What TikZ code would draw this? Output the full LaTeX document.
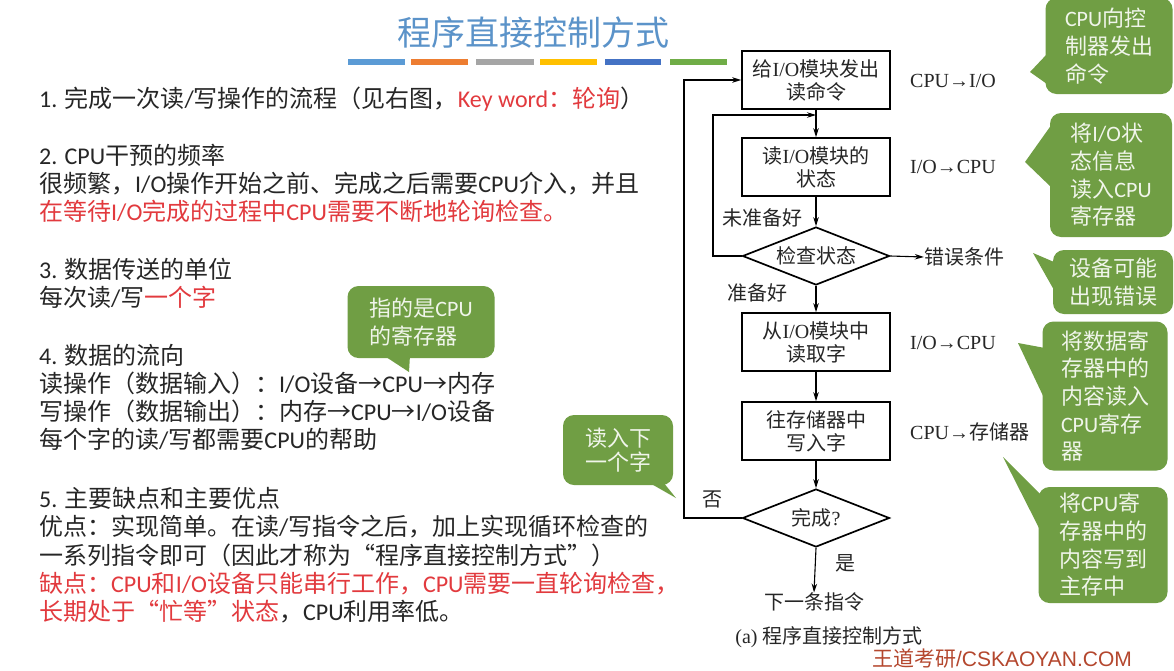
\documentclass[tikz,border=0pt]{standalone}
\usepackage{fontspec}
\setmainfont{Noto Sans CJK SC}
\newfontfamily\latf{Carlito}
\newfontfamily\serf{Liberation Serif}
\newfontfamily\arlf{Liberation Sans}
\newcommand\ltxt[1]{{\latf #1}}
\newcommand\stxt[1]{{\serf #1}}
\usetikzlibrary{shapes.geometric,arrows.meta}
\definecolor{txtc}{RGB}{38,38,38}
\definecolor{hired}{RGB}{226,58,62}
\definecolor{titleblue}{RGB}{91,147,201}
\definecolor{cgreen}{RGB}{112,158,68}
\definecolor{ctext}{RGB}{240,245,234}
\definecolor{wmred}{RGB}{180,71,46}
\definecolor{barA}{RGB}{91,155,213}
\definecolor{barB}{RGB}{237,125,49}
\definecolor{barC}{RGB}{165,165,165}
\definecolor{barD}{RGB}{255,192,0}
\definecolor{barE}{RGB}{68,114,196}
\definecolor{barF}{RGB}{112,173,71}
\begin{document}
\begin{tikzpicture}[x=1pt,y=-1pt,
  lefttext/.style={anchor=west,inner sep=0pt,text=txtc,font=\fontsize{24}{28}\selectfont},
  fbox/.style={draw=black,line width=1.7pt,minimum width=148pt,minimum height=58pt,inner sep=0pt,align=center,text=txtc,font=\fontsize{20}{23}\selectfont},
  fdia/.style={diamond,aspect=2.5,draw=black,line width=1.7pt,minimum width=147pt,minimum height=58pt,inner sep=0pt,text=txtc,font=\fontsize{20}{23}\selectfont},
  flab/.style={inner sep=0pt,text=txtc,font=\fontsize{20}{23}\selectfont},
  rlab/.style={anchor=west,inner sep=0pt,text=txtc,font=\fontsize{20}{23}\selectfont},
  farr/.style={line width=1.1pt,-{Stealth[length=9pt,width=5.5pt]}},
  callbox/.style={fill=cgreen,rounded corners=11pt,inner sep=0pt,text=ctext,align=left,font=\fontsize{22}{27.7}\selectfont},
]
\useasboundingbox (0,0) rectangle (1174,670);
\fill[white] (0,0) rectangle (1174,670);

% title
\node[inner sep=0pt,text=titleblue,font=\fontsize{34}{40}\selectfont] (title) at (533,33) {程序直接控制方式};
\fill[barA] (348,59) rectangle (405,65);
\fill[barB] (411,59) rectangle (468,65);
\fill[barC] (476,59) rectangle (534,65);
\fill[barD] (540,59) rectangle (597,65);
\fill[barE] (605,59) rectangle (661,65);
\fill[barF] (670,59) rectangle (727,65);

% left text
\node[lefttext] (l1) at (39,99) {\ltxt{1. }完成一次读\ltxt{/}写操作的流程（见右图，\textcolor{hired}{\ltxt{Key word}：轮询}）};
\node[lefttext] (l2a) at (39,155) {\ltxt{2. CPU}干预的频率};
\node[lefttext] (l2b) at (39,184) {很频繁，\ltxt{I/O}操作开始之前、完成之后需要\ltxt{CPU}介入，并且};
\node[lefttext] (l2c) at (39,211) {\textcolor{hired}{在等待\ltxt{I/O}完成的过程中\ltxt{CPU}需要不断地轮询检查。}};
\node[lefttext] (l3a) at (39,269) {\ltxt{3. }数据传送的单位};
\node[lefttext] (l3b) at (39,297) {每次读\ltxt{/}写\textcolor{hired}{一个字}};
\node[lefttext] (l4a) at (39,355) {\ltxt{4. }数据的流向};
\node[lefttext] (l4b) at (39,383) {读操作（数据输入）：\ltxt{I/O}设备→\ltxt{CPU}→内存};
\node[lefttext] (l4c) at (39,411) {写操作（数据输出）：内存→\ltxt{CPU}→\ltxt{I/O}设备};
\node[lefttext] (l4d) at (39,439) {每个字的读\ltxt{/}写都需要\ltxt{CPU}的帮助};
\node[lefttext] (l5a) at (39,498) {\ltxt{5. }主要缺点和主要优点};
\node[lefttext] (l5b) at (39,527) {优点：实现简单。在读\ltxt{/}写指令之后，加上实现循环检查的};
\node[lefttext] (l5c) at (39,555) {一系列指令即可（因此才称为“程序直接控制方式”）};
\node[lefttext] (l5d) at (39,584) {\textcolor{hired}{缺点：\ltxt{CPU}和\ltxt{I/O}设备只能串行工作，\ltxt{CPU}需要一直轮询检查，}};
\node[lefttext] (l5e) at (39,612) {\textcolor{hired}{长期处于“忙等”状态}，\ltxt{CPU}利用率低。};

% flowchart
\node[fbox] (b1) at (816,80) {给\stxt{I/O}模块发出\\读命令};
\node[fbox] (b2) at (816,167) {读\stxt{I/O}模块的\\状态};
\node[fdia] (d1) at (816,256) {检查状态};
\node[fbox] (b3) at (816,342) {从\stxt{I/O}模块中\\读取字};
\node[fbox] (b4) at (816,431) {往存储器中\\写入字};
\node[fdia] (d2) at (816,518) {完成\stxt{?}};
\node[flab] (nxt) at (814,602) {下一条指令};
\node[flab] (err) at (964,257) {错误条件};
\coordinate (j1) at (816,115);

\draw[farr] (b1.south) -- (b2.north);
\draw[farr] (b2.south) -- (d1.north);
\draw[farr] (d1.south) -- (b3.north);
\draw[farr] (b3.south) -- (b4.north);
\draw[farr] (b4.south) -- (d2.north);
\draw[farr] (d2.south) -- (nxt.north);
\draw[farr] (d1.east) -- (err.west);
\draw[farr] (d1.west) -| (713,115) -- (j1);
\draw[farr] (d2.west) -| (684,80) -- (b1.west);

\node[flab] (nr) at (762,218) {未准备好};
\node[flab] (rd) at (757,293) {准备好};
\node[flab] (no) at (712,499) {否};
\node[flab] (yes) at (845,563) {是};

\node[rlab] (r1) at (910,81) {\stxt{CPU→I/O}};
\node[rlab] (r2) at (910,167) {\stxt{I/O→CPU}};
\node[rlab] (r3) at (910,343) {\stxt{I/O→CPU}};
\node[rlab] (r4) at (910,432) {\stxt{CPU→}存储器};
\node[flab] (cap) at (829,637) {\stxt{(a) }程序直接控制方式};

% callouts
\fill[cgreen] (1047,54) -- (1030,72) -- (1047,84) -- cycle;
\node[callbox,minimum width=127pt,minimum height=96pt] (c1) at (1109,46) {\ltxt{CPU}向控\\制器发出\\命令};
\fill[cgreen] (1052,124) -- (1025,162) -- (1052,188) -- cycle;
\node[callbox,minimum width=122pt,minimum height=124pt] (c2) at (1111,175) {将\ltxt{I/O}状\\态信息\\读入\ltxt{CPU}\\寄存器};
\fill[cgreen] (1054,262) -- (1033,253) -- (1054,290) -- cycle;
\node[callbox,minimum width=120pt,minimum height=64pt] (c3) at (1113,282) {设备可能\\出现错误};
\fill[cgreen] (1045,348) -- (1018,343) -- (1045,400) -- cycle;
\node[callbox,minimum width=125pt,minimum height=149pt] (c4) at (1105,396) {将数据寄\\存器中的\\内容读入\\\ltxt{CPU}寄存\\器};
\fill[cgreen] (1042,496) -- (1003,457) -- (1040,530) -- cycle;
\node[callbox,minimum width=129pt,minimum height=116pt] (c5) at (1103,545) {将\ltxt{CPU}寄\\存器中的\\内容写到\\主存中};
\fill[cgreen] (383,355) -- (409,372) -- (410,355) -- cycle;
\node[callbox,minimum width=147pt,minimum height=72pt] (c6) at (421,322) {指的是\ltxt{CPU}\\的寄存器};
\fill[cgreen] (648,482) -- (676,498) -- (663,482) -- cycle;
\node[callbox,minimum width=110pt,minimum height=70pt,font=\fontsize{22}{24.5}\selectfont] (c7) at (618,450) {读入下\\一个字};

% watermark
\node[inner sep=0pt,text=wmred,font=\fontsize{21}{24}\selectfont] (wm) at (1002,659) {王道考研{\arlf /CSKAOYAN.COM}};
\end{tikzpicture}
\end{document}
